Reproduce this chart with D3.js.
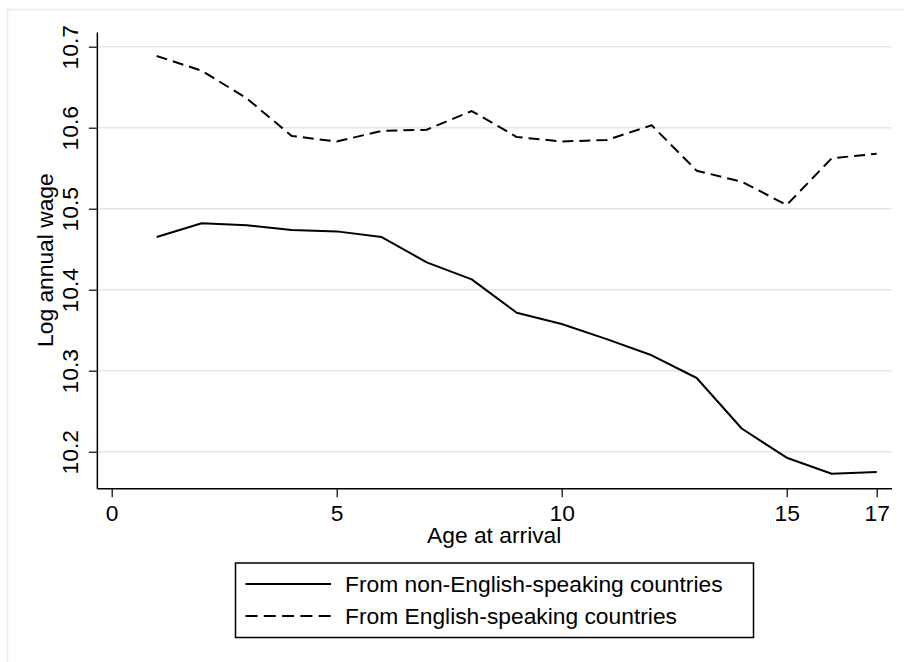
<!DOCTYPE html>
<html>
<head>
<meta charset="utf-8">
<script src="https://cdn.jsdelivr.net/npm/d3@7"></script>
<style>
  html, body { margin: 0; padding: 0; background: #fff; }
  svg { display: block; }
  text { font-family: "Liberation Sans", Arial, Helvetica, sans-serif; fill: #000; }
</style>
</head>
<body>
<svg id="chart" width="904" height="662"></svg>
<script>
// ---- Data ----
const ages = [1, 2, 3, 4, 5, 6, 7, 8, 9, 10, 11, 12, 13, 14, 15, 16, 17];
const nonEnglish = [10.465, 10.482, 10.4795, 10.4737, 10.472, 10.465, 10.4338, 10.4128, 10.3716, 10.3577, 10.339, 10.319, 10.291, 10.2286, 10.1926, 10.1728, 10.175];
const english = [10.6885, 10.6704, 10.6363, 10.5898, 10.583, 10.596, 10.5975, 10.6206, 10.5885, 10.583, 10.5848, 10.603, 10.5469, 10.5333, 10.5046, 10.5622, 10.5679];
const xTicks = [0, 5, 10, 15, 17];
const yTicks = [10.2, 10.3, 10.4, 10.5, 10.6, 10.7];
const seriesNames = ["From non-English-speaking countries", "From English-speaking countries"];
const xTitle = "Age at arrival";
const yTitle = "Log annual wage";

// ---- Layout ----
const svg = d3.select("#chart");
const FONT = 22.8;

// outer graph-region border
svg.append("rect")
  .attr("x", 7.5).attr("y", 9.5)
  .attr("width", 1000).attr("height", 1000)
  .attr("fill", "#fff")
  .attr("stroke", "#ebebeb").attr("stroke-width", 1.5);

const x = d3.scaleLinear().domain([-0.33, 17.33]).range([96.85, 891.55]);
const y = d3.scaleLinear().domain([10.155, 10.718]).range([488.15, 32.12]);

const x0 = x.range()[0], x1 = x.range()[1];
const y0 = y.range()[0], y1 = y.range()[1];

// gridlines
svg.append("g").selectAll("line").data(yTicks).join("line")
  .attr("x1", x0).attr("x2", x1)
  .attr("y1", d => y(d)).attr("y2", d => y(d))
  .attr("stroke", "#e6e6e6").attr("stroke-width", 1.5);

// y axis
const yAxis = svg.append("g")
  .attr("transform", `translate(${x0},0)`)
  .call(d3.axisLeft(y).tickValues(yTicks).tickSize(8).tickSizeOuter(0).tickFormat(d3.format(".1f")));
yAxis.select(".domain").attr("stroke", "#000").attr("stroke-width", 1.5);
yAxis.selectAll(".tick line").attr("stroke", "#000").attr("stroke-width", 1.2);
yAxis.selectAll(".tick text")
  .attr("font-size", FONT)
  .attr("font-family", null)
  .attr("text-anchor", "middle")
  .attr("transform", "rotate(-90)")
  .attr("x", 0).attr("y", -19).attr("dy", 0);

// x axis
const xAxis = svg.append("g")
  .attr("transform", `translate(0,${y0})`)
  .call(d3.axisBottom(x).tickValues(xTicks).tickSize(9).tickSizeOuter(0).tickFormat(d3.format("d")));
xAxis.select(".domain").attr("stroke", "#000").attr("stroke-width", 1.5);
xAxis.selectAll(".tick line").attr("stroke", "#000").attr("stroke-width", 1.2);
xAxis.selectAll(".tick text")
  .attr("font-size", FONT)
  .attr("font-family", null)
  .attr("y", 33).attr("dy", 0);

// axis titles
svg.append("text")
  .attr("x", (x0 + x1) / 2).attr("y", 543)
  .attr("text-anchor", "middle").attr("font-size", FONT)
  .text(xTitle);
svg.append("text")
  .attr("transform", `translate(53,${(y0 + y1) / 2}) rotate(-90)`)
  .attr("text-anchor", "middle").attr("font-size", FONT)
  .text(yTitle);

// lines
const line = d3.line().x((d, i) => x(ages[i])).y(d => y(d));
const dashes = ["none", "11,6"];
[nonEnglish, english].forEach((vals, k) => {
  svg.append("path")
    .datum(vals)
    .attr("d", line)
    .attr("fill", "none")
    .attr("stroke", "#000")
    .attr("stroke-width", 2)
    .attr("stroke-linejoin", "round")
    .attr("stroke-dasharray", dashes[k]);
});

// legend
const leg = svg.append("g");
leg.append("rect")
  .attr("x", 235.5).attr("y", 563)
  .attr("width", 518).attr("height", 74.5)
  .attr("fill", "#fff").attr("stroke", "#000").attr("stroke-width", 1.5);
const legRows = [584, 616];
seriesNames.forEach((name, k) => {
  leg.append("line")
    .attr("x1", 245.5).attr("x2", 331)
    .attr("y1", legRows[k]).attr("y2", legRows[k])
    .attr("stroke", "#000").attr("stroke-width", 2)
    .attr("stroke-dasharray", k === 1 ? "12,6.3" : "none");
  leg.append("text")
    .attr("x", 345).attr("y", legRows[k] + 8)
    .attr("font-size", FONT)
    .text(name);
});
</script>
</body>
</html>
